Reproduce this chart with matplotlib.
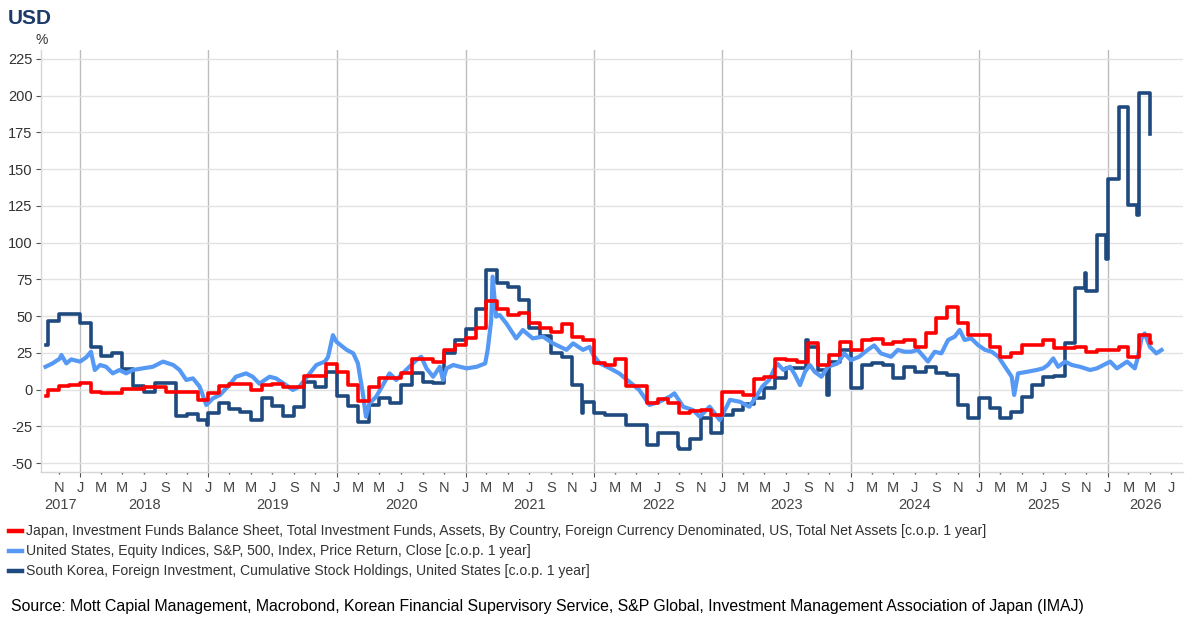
import matplotlib
matplotlib.use('Agg')
import matplotlib.pyplot as plt
import matplotlib.dates as mdates
import matplotlib.transforms as mtransforms
from matplotlib.lines import Line2D
from matplotlib.ticker import FuncFormatter
import pandas as pd

plt.rcParams['font.family'] = ['Liberation Sans', 'DejaVu Sans']
plt.rcParams['axes.unicode_minus'] = False

# Japan - monthly values, Oct 2017 .. May 2026 (step series)
jp_start = ('2017-09-25', -4.4)
jp_values = [
    -0.3, 2.4, 3.0,
    4.6, -2.0, -2.2, -2.4, 0.3, 0.3, 2.0, 2.0, -2.0, -2.0, -2.0, -7.0,
    -2.6, 2.6, 3.5, 3.5, 0.0, 3.3, 4.0, 2.0, 2.0, 9.2, 9.2, 17.4,
    12.0, 3.0, -8.0, 1.5, 7.6, 7.6, 11.0, 20.5, 20.5, 19.0, 27.0, 30.0,
    35.0, 42.0, 60.0, 54.5, 51.0, 52.0, 45.5, 41.6, 39.0, 44.6, 35.5, 34.0,
    18.0, 16.7, 20.5, 2.4, 2.4, -9.0, -6.7, -9.0, -16.0, -14.6, -14.0, -17.4,
    -2.0, -2.0, -3.7, 7.0, 8.7, 20.5, 20.0, 19.0, 31.4, 16.7, 23.5, 32.6,
    26.9, 33.7, 34.5, 31.0, 32.6, 34.0, 29.0, 38.7, 48.4, 56.0, 45.0, 37.0,
    37.0, 29.0, 22.3, 25.0, 30.3, 30.3, 33.7, 28.0, 28.0, 28.7, 25.7, 26.9,
    26.9, 29.0, 22.3, 37.0, 31.4,
]
jp_end = '2026-05-05'

# South Korea - monthly values, Oct 2017 .. Apr 2026 (step series)
kr_start = ('2017-09-25', 30.3)
kr_values = [
    46.8, 51.4, 51.4,
    45.0, 29.0, 22.8, 24.6, 13.7, 2.4, -1.5, 4.5, 4.5, -18.0, -16.7, -20.8,
    -15.8, -9.4, -13.5, -15.0, -20.8, -6.0, -11.2, -18.0, -11.7, 5.3, 2.0, 12.1,
    -4.4, -11.2, -21.9, -10.5, -6.0, -9.4, 3.0, 11.0, 5.3, 4.7, 24.6, 34.0,
    41.0, 55.0, 81.3, 72.7, 69.5, 61.0, 41.6, 36.4, 24.6, 21.9, 3.0, -8.3,
    -16.2, -17.4, -17.4, -24.2, -24.2, -37.8, -29.9, -29.9, -40.2, -33.4, -19.6, -29.9,
    -17.4, -14.0, -9.9, -6.0, 0.8, 8.0, 14.4, 14.4, 29.0, 13.3, 19.0, 27.0,
    0.8, 16.7, 18.0, 16.7, 7.6, 15.5, 12.0, 15.5, 11.0, 9.9, -10.5, -19.6,
    -6.0, -12.8, -19.6, -15.0, -5.0, 3.0, 8.3, 9.2, 31.4, 69.3, 67.0, 105.0,
    143.0, 192.0, 125.6, 202.0,
]
kr_spike_dates = ['2018-12-27', '2021-11-27', '2022-08-27', '2023-08-27',
                  '2023-10-27', '2025-10-27', '2025-12-26', '2026-03-26']
kr_spike_values = [-24.0, -15.8, -39.0, 33.7, -3.7, 79.0, 89.0, 118.8]
kr_last = ('2026-05-01', 174.0)
kr_end = '2026-05-02'

# United States - S&P 500 y/y
us_dates = [
    '2017-09-25', '2017-10-15', '2017-11-04', '2017-11-09', '2017-11-23', '2017-12-07',
    '2018-01-01', '2018-01-19', '2018-02-01', '2018-02-12', '2018-02-27', '2018-03-16',
    '2018-04-04', '2018-04-23', '2018-05-12', '2018-05-31', '2018-06-29', '2018-07-27',
    '2018-08-25', '2018-09-23', '2018-10-11', '2018-10-30', '2018-11-18', '2018-12-07',
    '2018-12-26', '2019-01-14', '2019-02-03', '2019-03-01', '2019-03-20', '2019-04-18',
    '2019-05-07', '2019-05-26', '2019-06-24', '2019-07-12', '2019-08-10', '2019-08-29',
    '2019-09-17', '2019-10-16', '2019-11-04', '2019-11-28', '2019-12-07', '2019-12-21',
    '2019-12-31', '2020-01-29', '2020-02-17', '2020-03-01', '2020-03-15', '2020-03-24',
    '2020-04-03', '2020-04-22', '2020-05-11', '2020-05-30', '2020-06-18', '2020-07-16',
    '2020-08-14', '2020-08-28', '2020-09-12', '2020-10-01', '2020-10-20', '2020-10-29',
    '2020-11-08', '2020-11-27', '2020-12-16', '2021-01-04', '2021-02-02', '2021-02-26',
    '2021-03-05', '2021-03-15', '2021-03-19', '2021-03-29', '2021-04-08', '2021-04-27',
    '2021-05-25', '2021-06-13', '2021-07-11', '2021-08-09', '2021-09-07', '2021-10-15',
    '2021-11-03', '2021-12-01', '2021-12-20', '2021-12-30', '2022-01-18', '2022-02-16',
    '2022-03-14', '2022-04-12', '2022-05-10', '2022-06-08', '2022-07-06', '2022-08-04',
    '2022-08-18', '2022-09-12', '2022-10-10', '2022-10-29', '2022-11-26', '2022-12-25',
    '2023-01-23', '2023-02-20', '2023-03-19', '2023-04-07', '2023-04-25', '2023-05-14',
    '2023-06-06', '2023-06-24', '2023-07-13', '2023-07-27', '2023-08-10', '2023-08-24',
    '2023-09-07', '2023-09-21', '2023-10-10', '2023-10-28', '2023-11-25', '2023-12-14',
    '2024-01-02', '2024-01-25', '2024-02-18', '2024-03-08', '2024-03-27', '2024-04-25',
    '2024-05-14', '2024-06-02', '2024-06-21', '2024-07-10', '2024-08-08', '2024-08-27',
    '2024-09-15', '2024-10-04', '2024-10-23', '2024-11-06', '2024-11-20', '2024-12-09',
    '2024-12-28', '2025-01-17', '2025-02-05', '2025-02-24', '2025-03-15', '2025-04-03',
    '2025-04-10', '2025-04-21', '2025-05-15', '2025-06-13', '2025-07-01', '2025-07-15',
    '2025-07-30', '2025-08-13', '2025-09-02', '2025-09-21', '2025-10-14', '2025-11-12',
    '2025-12-01', '2025-12-20', '2026-01-08', '2026-01-27', '2026-02-25', '2026-03-19',
    '2026-03-28', '2026-04-07', '2026-04-16', '2026-05-01', '2026-05-19', '2026-06-03',
]
us_values = [
    15.5, 17.8, 21.0, 23.5, 17.8, 20.5,
    19.0, 22.0, 25.7, 13.3, 16.7, 15.5,
    11.0, 13.3, 11.0, 13.3, 14.4, 15.5,
    19.0, 16.7, 13.3, 6.5, 7.6, 2.0,
    -10.5, -6.0, -3.7, 3.0, 8.7, 11.0,
    8.7, 4.0, 8.7, 7.6, 3.0, -0.3,
    2.0, 11.0, 16.7, 19.0, 22.0, 37.0,
    32.5, 27.0, 24.6, 17.8, -2.6, -18.5,
    -9.4, -4.9, 3.0, 11.0, 6.5, 13.3,
    20.0, 22.3, 14.4, 8.7, 15.5, 6.5,
    14.4, 16.7, 15.5, 14.4, 15.5, 17.8,
    27.0, 47.0, 76.8, 49.6, 50.7, 45.0,
    34.8, 40.5, 34.8, 36.0, 31.4, 27.0,
    31.4, 27.0, 29.0, 23.5, 17.8, 14.4,
    11.0, 5.3, -0.3, -10.5, -8.3, -4.9,
    -2.6, -11.7, -14.0, -18.5, -11.7, -20.8,
    -7.0, -8.3, -11.7, -5.0, 2.0, 6.5,
    17.8, 13.3, 15.5, 9.9, 3.0, 12.0,
    16.7, 12.0, 8.7, 15.5, 17.8, 24.6,
    20.0, 22.3, 26.9, 30.0, 24.6, 22.3,
    27.0, 25.7, 25.7, 27.0, 19.0, 25.7,
    24.6, 33.7, 36.0, 40.5, 33.7, 34.8,
    30.3, 27.0, 25.7, 22.3, 15.5, 8.7,
    -3.7, 11.0, 12.0, 13.3, 14.4, 16.7,
    21.2, 15.5, 19.0, 16.7, 15.5, 13.3,
    14.4, 16.7, 19.0, 14.4, 19.0, 14.4,
    22.3, 34.8, 38.2, 29.0, 24.6, 26.9,
]

labels = [
    'Japan, Investment Funds Balance Sheet, Total Investment Funds, Assets, By Country, '
    'Foreign Currency Denominated, US, Total Net Assets [c.o.p. 1 year]',
    'United States, Equity Indices, S&P, 500, Index, Price Return, Close [c.o.p. 1 year]',
    'South Korea, Foreign Investment, Cumulative Stock Holdings, United States [c.o.p. 1 year]',
]
colors = ['#ff0000', '#5599f5', '#1f4a80']
y_ticks = [-50, -25, 0, 25, 50, 75, 100, 125, 150, 175, 200, 225]

# build the series
jp = pd.Series([jp_start[1]] + jp_values + [jp_values[-1]],
               index=pd.to_datetime([jp_start[0]]
                                    + list(pd.date_range('2017-10-01', periods=len(jp_values), freq='MS'))
                                    + [jp_end]))
kr_monthly = pd.Series(kr_values, index=pd.date_range('2017-10-01', periods=len(kr_values), freq='MS'))
kr_extra = pd.Series([kr_start[1]] + kr_spike_values + [kr_last[1], kr_last[1]],
                     index=pd.to_datetime([kr_start[0]] + kr_spike_dates + [kr_last[0], kr_end]))
kr = pd.concat([kr_monthly, kr_extra]).sort_index()
us = pd.Series(us_values, index=pd.to_datetime(us_dates))

W, H = 1200, 627
fig = plt.figure(figsize=(W / 100, H / 100), dpi=100)
ax_left, ax_right, ax_top, ax_bottom = 41, 1183, 50, 471.7
ax = fig.add_axes([ax_left / W, 1 - ax_bottom / H, (ax_right - ax_left) / W, (ax_bottom - ax_top) / H])

ax.step(kr.index, kr.values, where='post', color=colors[2], lw=2.6, zorder=3)
ax.plot(us.index, us.values, color=colors[1], lw=3.0, zorder=4)
ax.step(jp.index, jp.values, where='post', color=colors[0], lw=2.6, zorder=5)

ax.set_ylim(-55.9, 231)
ax.set_yticks(y_ticks)
ax.set_xlim(pd.Timestamp('2017-09-12'), pd.Timestamp('2026-08-03'))

ax.xaxis.set_major_locator(mdates.MonthLocator(bymonth=[1]))
ax.xaxis.set_minor_locator(mdates.MonthLocator(bymonth=[3, 5, 7, 9, 11]))
month_fmt = FuncFormatter(lambda v, pos: mdates.num2date(v).strftime('%b')[0])
ax.xaxis.set_major_formatter(month_fmt)
ax.xaxis.set_minor_formatter(month_fmt)

ax.grid(axis='y', color='#e2e2e2', lw=1.0, zorder=0)
ax.grid(axis='x', which='major', color='#bdbdbd', lw=1.0, zorder=0)
ax.set_axisbelow(True)

for s in ['top', 'right']:
    ax.spines[s].set_visible(False)
for s in ['left', 'bottom']:
    ax.spines[s].set_color('#d6d6d6')
    ax.spines[s].set_linewidth(1.0)

ax.tick_params(axis='y', length=3.6, width=0.8, color='#555555', labelsize=10.5,
               labelcolor='#333333', pad=2.5)
ax.tick_params(axis='x', which='major', length=3.8, width=0.8, color='#555555',
               labelsize=10.5, labelcolor='#444444', pad=2.8)
ax.tick_params(axis='x', which='minor', length=1.4, width=1.0, color='#555555',
               labelsize=10.5, labelcolor='#444444', pad=5.2)

# year labels centred on the visible part of each year
trans = mtransforms.blended_transform_factory(ax.transData, ax.transAxes)
x0, x1 = ax.get_xlim()
for yr in range(2017, 2027):
    a = max(mdates.date2num(pd.Timestamp(f'{yr}-01-01')), x0)
    b = min(mdates.date2num(pd.Timestamp(f'{yr + 1}-01-01')), x1)
    ax.text((a + b) / 2, -(505 - ax_bottom) / (ax_bottom - ax_top), str(yr),
            transform=trans, ha='center', va='center', fontsize=10.5, color='#444444')

fig.text(8 / W, 1 - 19 / H, 'USD', fontsize=15, fontweight='bold', color='#1c3a6b',
         ha='left', va='center')
fig.text(42 / W, 1 - 40 / H, '%', fontsize=10, color='#333333', ha='center', va='center')

# legend
for i, (lab, col) in enumerate(zip(labels, colors)):
    yy = 1 - (531 + 20 * i) / H
    fig.add_artist(Line2D([9 / W, 22 / W], [yy, yy], color=col, lw=3.2, transform=fig.transFigure))
    fig.text(26 / W, yy, lab, fontsize=10.1, color='#333333', ha='left', va='center')

fig.text(11 / W, 1 - 606 / H,
         'Source: Mott Capial Management, Macrobond, Korean Financial Supervisory Service, '
         'S&P Global, Investment Management Association of Japan (IMAJ)',
         fontsize=11.4, color='#000000', ha='left', va='center')

fig.savefig('out.png', dpi=100)
